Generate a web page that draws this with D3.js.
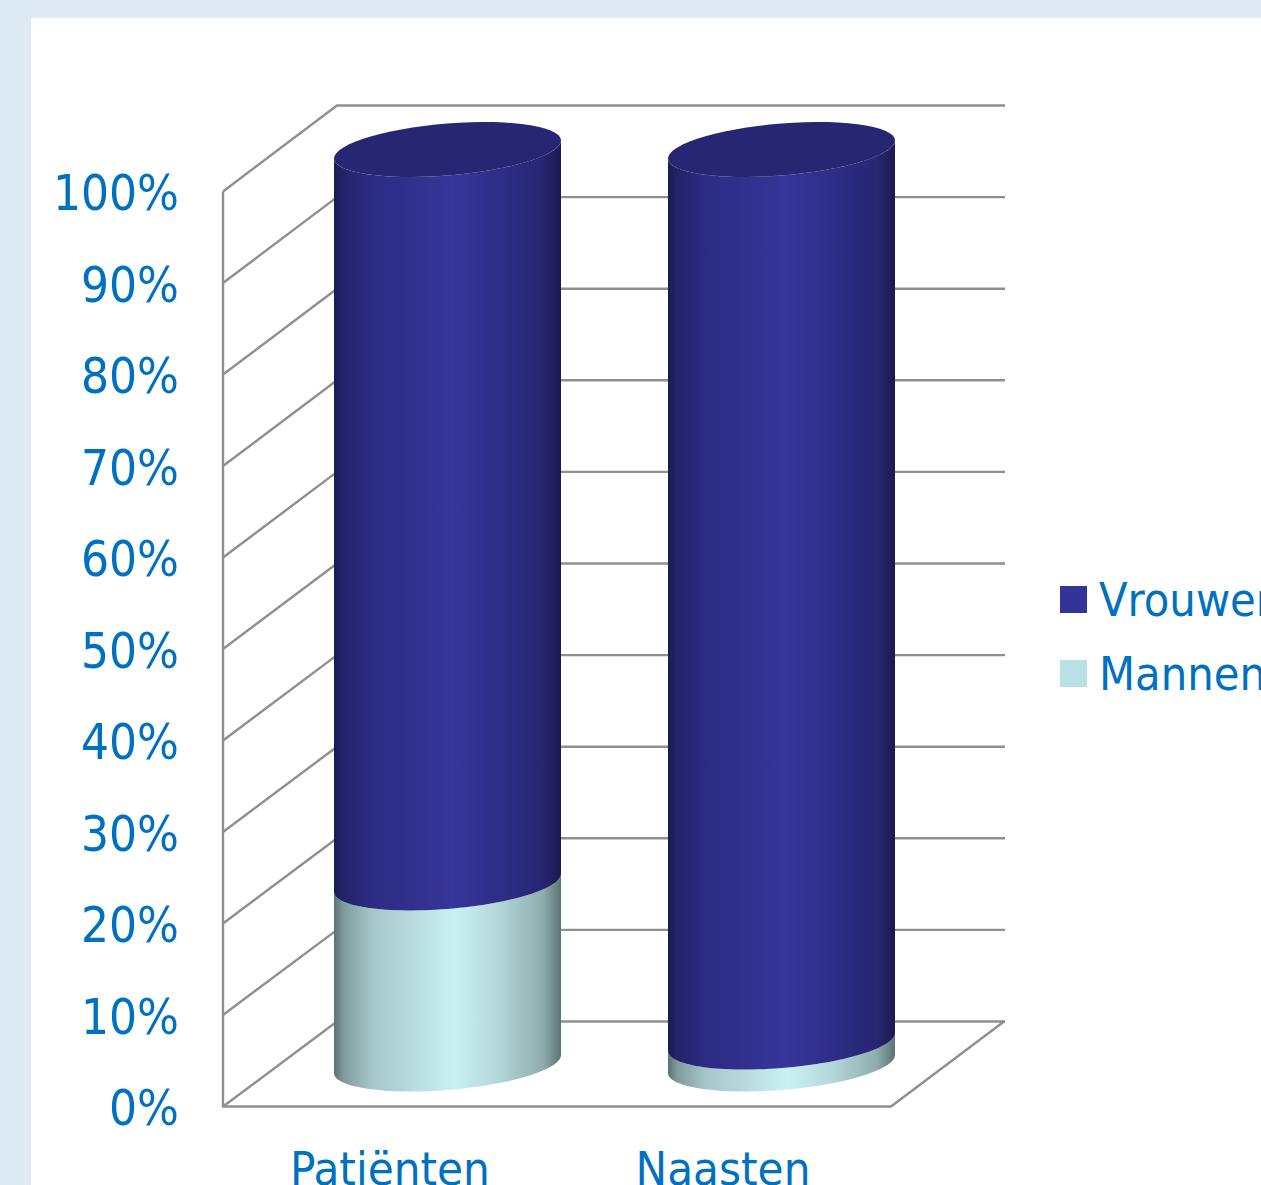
<!DOCTYPE html>
<html><head><meta charset="utf-8">
<style>html,body{margin:0;padding:0;overflow:hidden;background:#deebf4}svg{display:block}</style>
<script src="https://cdn.jsdelivr.net/npm/d3@7/dist/d3.min.js"></script></head>
<body><svg id="c" width="1261" height="1185"></svg>
<script>
const categories = ["Patiënten", "Naasten"];
const seriesNames = ["Mannen", "Vrouwen"];
const mannen = [19.8, 2.4];
const vrouwen = [80.2, 97.6];
const ticks = [0,10,20,30,40,50,60,70,80,90,100];
const legendOrder = ["Vrouwen", "Mannen"];

const svg = d3.select("#c");
const FONT = "'DejaVu Sans Condensed','DejaVu Sans',sans-serif", TXT = "#0070c0", GRID = "#8f8f8f";
svg.append("rect").attr("x",31).attr("y",18).attr("width",1230).attr("height",1167).attr("fill","#fff");

const yFront = d3.scaleLinear().domain([0,100]).range([1106.5,191.5]);
const yBack  = d3.scaleLinear().domain([0,100]).range([1021.5,105.5]);
const yMid   = d3.scaleLinear().domain([0,100]).range([1064,149.5]);
const xBand  = d3.scaleBand().domain(categories).range([334,895]).paddingInner(107/334);

// gradients
const defs = svg.append("defs");
const grad = (id, stops) => {
  const g = defs.append("linearGradient").attr("id",id).attr("x1",0).attr("x2",1).attr("y1",0).attr("y2",0);
  stops.forEach(([o,c]) => g.append("stop").attr("offset",o).attr("stop-color",c));
};
grad("gV", [[0,"#1b1b52"],[.04,"#23236b"],[.17,"#2c2c84"],[.35,"#30308e"],[.52,"#36369b"],[.72,"#2e2e88"],[.92,"#262672"],[1,"#1a1a4e"]]);
grad("gM", [[0,"#5c7273"],[.04,"#7f9a9c"],[.17,"#a6c8ca"],[.35,"#b8dcde"],[.53,"#c9f1f3"],[.72,"#b4d8da"],[.92,"#8fadae"],[1,"#5c7273"]]);

// walls and gridlines
const grid = svg.append("g").attr("fill","none").attr("stroke",GRID).attr("stroke-width",2.4);
const pts = d3.line();
ticks.forEach(v => {
  grid.append("path").attr("d", pts([[223,yFront(v)],[337,yBack(v)],[1005,yBack(v)]]));
});
grid.append("path").attr("d", pts([[223,yFront(100)],[223,yFront(0)],[891,yFront(0)],[1004,yBack(0)]]));

// cylinders
const RX = xBand.bandwidth()/2, SHEAR = -9, RY = 26;
const arcPts = (cx, cy, a0, a1) => d3.range(0,61).map(i => {
  const t = a0 + (a1-a0)*i/60;
  return [cx + RX*Math.cos(t), cy + SHEAR*Math.cos(t) + RY*Math.sin(t)];
});
const curve = d3.line();
categories.forEach((c,i) => {
  const cx = xBand(c) + RX;
  const m = mannen[i], w = vrouwen[i];
  const segs = [[0,m,"url(#gM)"],[m,m+w,"url(#gV)"]];
  segs.forEach(([lo,hi,f]) => {
    const p = arcPts(cx,yMid(lo),Math.PI,0).concat(arcPts(cx,yMid(hi),0,Math.PI));
    svg.append("path").attr("d",curve(p)+"Z").attr("fill",f);
  });
  svg.append("path").attr("d",curve(arcPts(cx,yMid(m+w),0,2*Math.PI))+"Z").attr("fill","#262672");
});

// axis labels
const text = (x,y,s,anchor,size) => svg.append("text").attr("x",x).attr("y",y).text(s)
  .attr("text-anchor",anchor).attr("fill",TXT).attr("font-family",FONT).attr("font-size",size);
ticks.forEach(v => text(179, yFront(v)+18.5, v+"%", "end", 49));
const labelX = {"Patiënten":390,"Naasten":723};
categories.forEach(c => text(labelX[c], 1184.5, c, "middle", 47));

// legend
const legColor = {"Vrouwen":"#333399","Mannen":"#b9e0e3"};
legendOrder.forEach((n,i) => {
  const y = 586 + i*74;
  svg.append("rect").attr("x",1060).attr("y",y).attr("width",27).attr("height",27).attr("fill",legColor[n]);
  text(1099, y+30, n, "start", 46.5);
});
</script></body></html>
